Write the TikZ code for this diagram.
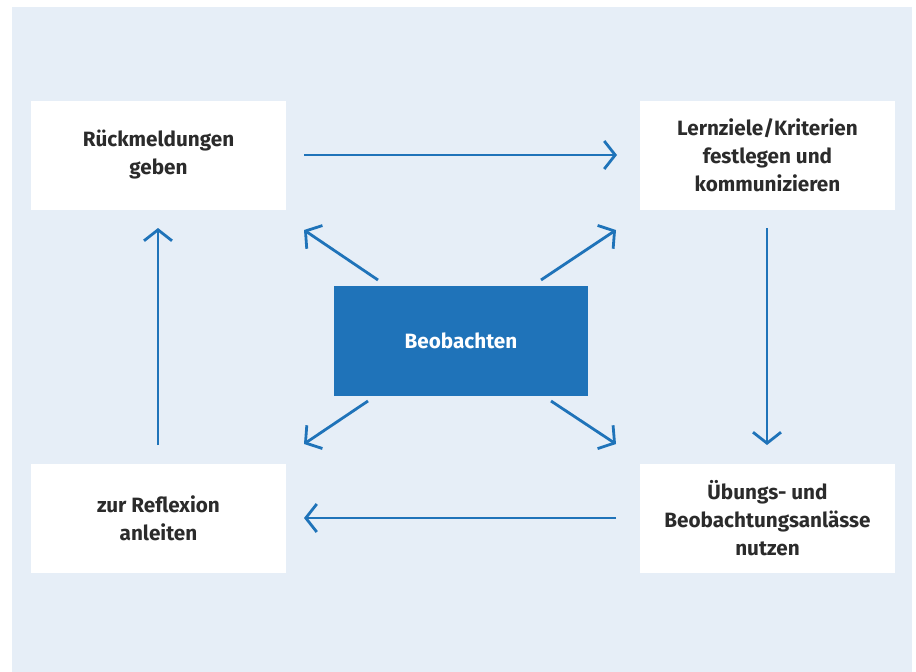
\documentclass[tikz,border=0pt]{standalone}
\usepackage{fontspec}
\setmainfont{Fira Sans}
\usetikzlibrary{arrows.meta}
\definecolor{bgblue}{HTML}{E6EEF7}
\definecolor{mainblue}{HTML}{1F73B9}
\definecolor{txt}{HTML}{2B2B2B}
\tikzset{
  box/.style={fill=white, minimum width=255pt, minimum height=109pt, align=center, text=txt, font=\fontsize{20.7}{28}\selectfont\bfseries, inner sep=0pt},
  center/.style={fill=mainblue, minimum width=254pt, minimum height=110pt, text=white, font=\fontsize{20.7}{28}\selectfont\bfseries, inner sep=0pt},
  conn/.style={draw=mainblue, line width=2.8pt, -{Straight Barb[length=11pt,width=28pt,line width=2.8pt]}}
}
\begin{document}
\begin{tikzpicture}[x=1pt,y=-1pt]
\useasboundingbox (0,0) rectangle (916,672);
\fill[bgblue] (12,7) rectangle (912,672);
\node[box] (rm) at (158.5,155) {Rückmeldungen\\geben};
\node[box] (lz) at (767.5,155) {Lernziele/Kriterien\\festlegen und\\kommunizieren};
\node[box] (ub) at (767.5,518) {Übungs- und\\Beobachtungsanlässe\\nutzen};
\node[box] (zr) at (158.5,518) {zur Reflexion\\anleiten};
\node[center] (bo) at (461,341) {Beobachten};
\coordinate (a1) at (304,155); \coordinate (a2) at (617,155);
\coordinate (b1) at (767,228); \coordinate (b2) at (767,445);
\coordinate (c1) at (616,518); \coordinate (c2) at (304,518);
\coordinate (d1) at (158,445); \coordinate (d2) at (158,228);
\coordinate (e1) at (378,280); \coordinate (e2) at (304,230);
\coordinate (f1) at (541,280); \coordinate (f2) at (616,230);
\coordinate (g1) at (368,401); \coordinate (g2) at (304,444);
\coordinate (h1) at (551,401); \coordinate (h2) at (616,444);
\draw[conn] (a1) -- (a2);
\draw[conn] (b1) -- (b2);
\draw[conn] (c1) -- (c2);
\draw[conn] (d1) -- (d2);
\draw[conn] (e1) -- (e2);
\draw[conn] (f1) -- (f2);
\draw[conn] (g1) -- (g2);
\draw[conn] (h1) -- (h2);
\end{tikzpicture}
\end{document}
